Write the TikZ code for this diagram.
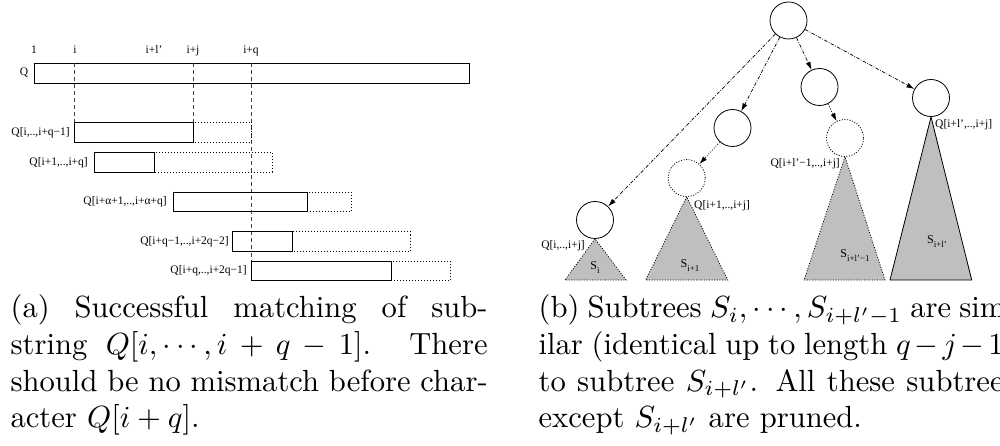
\documentclass[tikz,border=0pt]{standalone}
\usepackage{fontspec}
\newfontfamily\figfont{Liberation Serif}
\usetikzlibrary{arrows.meta,calc}
\begin{document}
\begin{tikzpicture}[x=1pt,y=-1pt,
  lbl/.style={font=\figfont\fontsize{11.5}{13}\selectfont, inner sep=0pt},
  sublbl/.style={font=\figfont\fontsize{12}{13}\selectfont, inner sep=0pt},
  strbox/.style={draw, line width=0.9pt},
  dotbox/.style={draw, line width=0.9pt, dash pattern=on 1pt off 2pt},
  guide/.style={draw, line width=0.9pt, black!75, dash pattern=on 4pt off 3pt},
  tnode/.style={circle, draw, line width=0.8pt, minimum size=37pt, inner sep=0pt},
  pnode/.style={tnode, dash pattern=on 1pt off 1.6pt},
  rootedge/.style={draw, line width=0.7pt, dash pattern=on 3.5pt off 1.5pt on 0.8pt off 1.5pt,
                   -{Latex[length=8pt,width=5pt]}},
  subedge/.style={draw, line width=0.7pt, dash pattern=on 1pt off 1.6pt,
                  -{Latex[length=8pt,width=5pt]}},
  subtree/.style={fill=black!25, line width=0.8pt},
  % captions are set at 10pt and enlarged as a whole
  caption/.style={font=\fontsize{10}{12}\selectfont, inner sep=0pt, text width=155.9pt,
                  align=justify, anchor=north west, scale=3.06, transform shape}
]
\clip (0,0) rectangle (1000,446);
\newcommand{\Ssub}[1]{S\raisebox{-4pt}{\fontsize{9}{10}\selectfont #1}}

% ---------- (a) positions in the string Q ----------
\node[lbl, anchor=base] (p1)  at (34,54)  {1};
\node[lbl, anchor=base] (pi)  at (75,54)  {i};
\node[lbl, anchor=base] (pil) at (154,54) {i+l’};
\node[lbl, anchor=base] (pij) at (193,54) {i+j};
\node[lbl, anchor=base] (piq) at (251,54) {i+q};

\node[lbl] (qname) at (24,73) {Q};
\draw[strbox] (34.7,63.5) rectangle (469,83.5);

% alignment guides
\draw[guide] (74,63.5) -- (74,122);
\draw[guide] (193,63.5) -- (193,122);
\draw[guide] (251.5,63.5) -- (251.5,261);

% windows: dotted full window, solid matched prefix
\draw[dotbox] (74,122) rectangle (251.5,142);
\draw[strbox] (74,122) rectangle (193,142);
\node[lbl, anchor=east] (w1) at (70,133) {Q[i,..,i+q−1]};

\draw[dotbox] (94,152) rectangle (272,172);
\draw[strbox] (94,152) rectangle (154,172);
\node[lbl, anchor=east] (w2) at (88,163) {Q[i+1,..,i+q]};

\draw[dotbox] (173,192) rectangle (351,211.5);
\draw[strbox] (173,192) rectangle (307,211.5);
\node[lbl, anchor=east] (w3) at (167,202) {Q[i+α+1,..,i+α+q]};

\draw[dotbox] (232,231.5) rectangle (410,251);
\draw[strbox] (232,231.5) rectangle (292,251);
\node[lbl, anchor=east] (w4) at (229,242) {Q[i+q−1,..,i+2q−2]};

\draw[dotbox] (251.5,261) rectangle (450,280.5);
\draw[strbox] (251.5,261) rectangle (391,280.5);
\node[lbl, anchor=east] (w5) at (247,271) {Q[i+q,..,i+2q−1]};

% ---------- (b) the suffix tree ----------
\node[tnode] (root) at (788.5,20.5) {};
\node[tnode] (nc)   at (595,220)    {};
\node[tnode] (nb)   at (732.5,128)  {};
\node[pnode] (nbd)  at (686.7,178)  {};
\node[tnode] (na)   at (819.5,87)   {};
\node[pnode] (nad)  at (845,138)    {};
\node[tnode] (nr)   at (931,98)     {};

\draw[rootedge] (root) -- (nc);
\draw[rootedge] (root) -- (nb);
\draw[rootedge] (root) -- (na);
\draw[rootedge] (root) -- (nr);
\draw[subedge] (nb) -- (nbd);
\draw[subedge] (na) -- (nad);

% subtrees
\path[subtree, draw, dash pattern=on 1pt off 1.6pt] (nc.south) -- (565,280) -- (626,280) -- cycle;
\path[subtree, draw, dash pattern=on 1pt off 1.6pt] (nbd.south) -- (645.7,280) -- (727.7,280) -- cycle;
\path[subtree, draw, dash pattern=on 1pt off 1.6pt] (nad.south) -- (804,280) -- (885,280) -- cycle;
\path[subtree, draw] (nr.south) -- (890,280) -- (971.7,280) -- cycle;

\node[sublbl] (s1) at (595,268) {\Ssub{i}};
\node[sublbl] (s2) at (690,266) {\Ssub{i+1}};
\node[sublbl] (s3) at (855,256) {\Ssub{i+l’−1}};
\node[sublbl] (s4) at (937,242) {\Ssub{i+l’}};

\node[lbl, anchor=east] (q1) at (585,246) {Q[i,..,i+j]};
\node[lbl, anchor=west] (q2) at (694,206) {Q[i+1,..,i+j]};
\node[lbl, anchor=east] (q3) at (840,164) {Q[i+l’−1,..,i+j]};
\node[lbl, anchor=west] (q4) at (935,125) {Q[i+l’,..,i+j]};

% ---------- captions ----------
\node[caption] (capa) at (10,294) {(a) Successful matching of sub-\linebreak string $Q[i,\cdots,i+q-1]$. There should be no mismatch before char-\linebreak acter $Q[i+q]$.};
\node[caption] (capb) at (538,294) {(b) Subtrees $S_i,\cdots,S_{i+l'-1}$ are sim-\linebreak ilar (identical up to length $q-j-1$)\linebreak to subtree $S_{i+l'}$. All these subtrees\linebreak except $S_{i+l'}$ are pruned.};
\end{tikzpicture}
\end{document}
